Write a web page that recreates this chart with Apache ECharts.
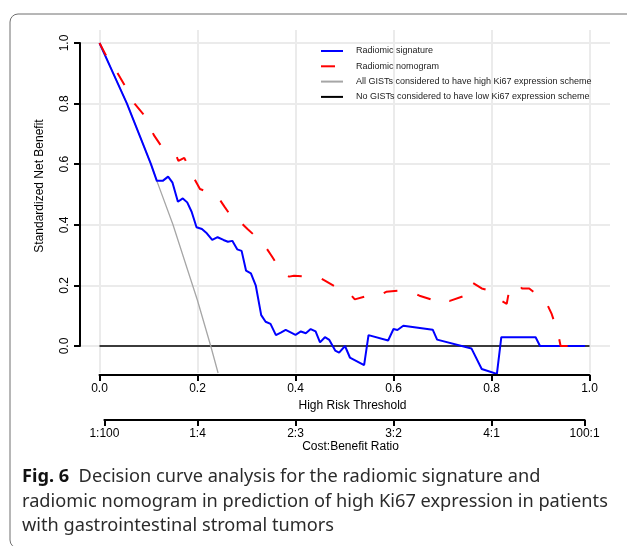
<!DOCTYPE html>
<html>
<head>
<meta charset="utf-8">
<script src="https://cdn.jsdelivr.net/npm/echarts@6/dist/echarts.min.js"></script>
<style>
html, body { margin: 0; padding: 0; background: #fff; }
#chart { width: 627px; height: 546px; }
</style>
</head>
<body>
<div id="chart"></div>
<script>
// threshold probabilities and standardized net benefit
var sigT = [0, 0.028, 0.056, 0.083, 0.105, 0.117, 0.129, 0.140, 0.149, 0.160, 0.170, 0.179, 0.188, 0.198, 0.209, 0.219, 0.230, 0.241, 0.253, 0.262, 0.271, 0.281, 0.290, 0.299, 0.309, 0.319, 0.330, 0.339, 0.349, 0.360, 0.370, 0.380, 0.390, 0.400, 0.411, 0.421, 0.431, 0.441, 0.450, 0.460, 0.469, 0.481, 0.489, 0.501, 0.511, 0.540, 0.549, 0.589, 0.600, 0.608, 0.620, 0.680, 0.689, 0.759, 0.780, 0.811, 0.820, 0.890, 0.899, 0.991];
var sigV = [1.0, 0.90, 0.80, 0.69, 0.60, 0.545, 0.545, 0.559, 0.539, 0.476, 0.487, 0.474, 0.443, 0.392, 0.386, 0.372, 0.350, 0.359, 0.350, 0.344, 0.347, 0.319, 0.314, 0.249, 0.240, 0.199, 0.102, 0.080, 0.073, 0.036, 0.044, 0.053, 0.045, 0.037, 0.048, 0.042, 0.056, 0.048, 0.012, 0.029, 0.020, -0.015, -0.022, 0.000, -0.038, -0.063, 0.036, 0.018, 0.056, 0.053, 0.067, 0.054, 0.021, -0.008, -0.076, -0.092, 0.029, 0.029, 0.000, 0.000];

var nomoT = [0, 0.013, 0.037, 0.051, 0.072, 0.091, 0.111, 0.126, 0.156, 0.161, 0.173, 0.191, 0.205, 0.239, 0.255, 0.280, 0.290, 0.302, 0.334, 0.351, 0.374, 0.387, 0.397, 0.435, 0.443, 0.460, 0.498, 0.511, 0.521, 0.559, 0.569, 0.585, 0.626, 0.653, 0.691, 0.702, 0.715, 0.749, 0.758, 0.780, 0.791, 0.802, 0.831, 0.836, 0.855, 0.862, 0.877, 0.911, 0.923, 0.936, 0.941, 0.991];
var nomoV = [1.0, 0.960, 0.900, 0.861, 0.799, 0.762, 0.696, 0.660, 0.630, 0.611, 0.621, 0.559, 0.518, 0.498, 0.460, 0.402, 0.405, 0.386, 0.339, 0.298, 0.238, 0.229, 0.232, 0.227, 0.231, 0.216, 0.180, 0.172, 0.154, 0.171, 0.165, 0.179, 0.185, 0.166, 0.146, 0.159, 0.149, 0.168, 0.212, 0.190, 0.185, 0.166, 0.139, 0.183, 0.207, 0.190, 0.190, 0.146, 0.105, 0.040, 0.000, 0.000];

var allT = [0, 0.028, 0.056, 0.083, 0.105, 0.117, 0.150, 0.180, 0.200, 0.227, 0.242];
var allV = [1.0, 0.90, 0.80, 0.69, 0.60, 0.545, 0.40, 0.25, 0.15, 0.0, -0.089];

var noneT = [0, 1];
var noneV = [0, 0];

var gridTicks = [0, 0.2, 0.4, 0.6, 0.8, 1.0];
var costTicks = [0.01, 0.2, 0.4, 0.6, 0.8, 0.99];
var costLabels = ['1:100', '1:4', '2:3', '3:2', '4:1', '100:1'];

var seriesNames = [
    'Radiomic signature',
    'Radiomic nomogram',
    'All GISTs considered to have high Ki67 expression scheme',
    'No GISTs considered to have low Ki67 expression scheme'
];

function pairs(xs, ys) {
    return xs.map(function (x, i) { return [x, ys[i]]; });
}

var chart = echarts.init(document.getElementById('chart'));
var font = 'Liberation Sans, Arial, sans-serif';

var gridMarks = [];
gridTicks.forEach(function (v) {
    gridMarks.push({ xAxis: v });
    gridMarks.push({ yAxis: v });
});

var option = {
    animation: false,
    textStyle: { fontFamily: font },
    grid: [
        // panel (gridlines + curves)
        { left: 80, top: 30, width: 530, height: 343 },
        // 0..1 box, its axes are pushed outward like R's
        { left: 99.5, top: 43, width: 490, height: 303 },
        // cost:benefit axis
        { left: 104.4, top: 380, width: 480.2, height: 40 }
    ],
    xAxis: [
        { gridIndex: 0, type: 'value', min: -0.0398, max: 1.0418, show: false },
        {
            gridIndex: 1, type: 'value', min: 0, max: 1, interval: 0.2, position: 'bottom', offset: 29,
            axisLine: { show: true, onZero: false, lineStyle: { color: '#000', width: 2 } },
            axisTick: { show: true, length: 6, lineStyle: { color: '#000', width: 2 } },
            axisLabel: { color: '#000', fontSize: 12, margin: 8, formatter: function (v) { return v.toFixed(1); } },
            splitLine: { show: false },
            name: 'High Risk Threshold', nameLocation: 'middle', nameGap: 23,
            nameTextStyle: { color: '#000', fontSize: 12, padding: [0, 0, 0, 16] }
        },
        {
            gridIndex: 2, type: 'value', min: 0.01, max: 0.99, position: 'bottom',
            axisLine: { show: true, onZero: false, lineStyle: { color: '#000', width: 2 } },
            axisTick: { show: true, length: 6, customValues: costTicks, lineStyle: { color: '#000', width: 2 } },
            axisLabel: {
                color: '#000', fontSize: 12, margin: 8, customValues: costTicks,
                formatter: function (v) { return costLabels[costTicks.indexOf(v)]; }
            },
            splitLine: { show: false },
            name: 'Cost:Benefit Ratio', nameLocation: 'middle', nameGap: 21,
            nameTextStyle: { color: '#000', fontSize: 12, padding: [0, 0, 0, 12] }
        }
    ],
    yAxis: [
        { gridIndex: 0, type: 'value', min: -0.0891, max: 1.0429, show: false },
        {
            gridIndex: 1, type: 'value', min: 0, max: 1, interval: 0.2, position: 'left', offset: 19.5,
            axisLine: { show: true, onZero: false, lineStyle: { color: '#000', width: 2 } },
            axisTick: { show: true, length: 6, lineStyle: { color: '#000', width: 2 } },
            axisLabel: { color: '#000', fontSize: 12, rotate: 90, margin: 9, formatter: function (v) { return v.toFixed(1); } },
            splitLine: { show: false }
        },
        { gridIndex: 2, type: 'value', show: false }
    ],
    legend: {
        data: seriesNames,
        orient: 'vertical',
        left: 320,
        top: 46,
        padding: 0,
        itemWidth: 22,
        itemHeight: 10,
        itemGap: 5.3,
        selectedMode: false,
        itemStyle: { opacity: 0 },
        textStyle: { fontSize: 9, color: '#222', lineHeight: 10, padding: [0, 0, 0, 8] }
    },
    graphic: [
        {
            type: 'rect', z: -10, silent: true,
            shape: { x: 10, y: 14, width: 640, height: 534, r: 8 },
            style: { fill: 'none', stroke: '#6e6e6e', lineWidth: 1 }
        },
        {
            type: 'text', silent: true, x: 40, y: 186, rotation: Math.PI / 2,
            style: {
                text: 'Standardized Net Benefit', fontSize: 12, fontFamily: font, fill: '#000',
                align: 'center', verticalAlign: 'middle'
            }
        },
        {
            type: 'text', silent: true, x: 22, y: 465,
            style: {
                text: '{b|Fig. 6}  Decision curve analysis for the radiomic signature and\n' +
                      'radiomic nomogram in prediction of high Ki67 expression in patients\n' +
                      'with gastrointestinal stromal tumors',
                fontSize: 18.2, fontFamily: 'Noto Sans, Open Sans, sans-serif', fill: '#2b2b2b',
                lineHeight: 24.5,
                rich: {
                    b: { fontSize: 18.2, fontWeight: 'bold', fontFamily: 'Noto Sans, Open Sans, sans-serif', fill: '#111', lineHeight: 24.5 }
                }
            }
        }
    ],
    series: [
        {
            name: '_grid', type: 'line', xAxisIndex: 0, yAxisIndex: 0, data: [], z: 0,
            markLine: {
                silent: true, symbol: 'none', z: 0, label: { show: false },
                lineStyle: { color: '#ebebeb', width: 2, type: 'solid' },
                data: gridMarks
            }
        },
        {
            name: seriesNames[3], type: 'line', xAxisIndex: 0, yAxisIndex: 0, symbol: 'none', z: 2,
            data: pairs(noneT, noneV),
            lineStyle: { color: '#000', width: 1.5 }, itemStyle: { color: '#000' }
        },
        {
            name: seriesNames[2], type: 'line', xAxisIndex: 0, yAxisIndex: 0, symbol: 'none', z: 2,
            data: pairs(allT, allV),
            lineStyle: { color: '#a6a6a6', width: 1.3 }, itemStyle: { color: '#a6a6a6' }
        },
        {
            name: seriesNames[0], type: 'line', xAxisIndex: 0, yAxisIndex: 0, symbol: 'none', z: 3,
            data: pairs(sigT, sigV),
            lineStyle: { color: '#0000ff', width: 2 }, itemStyle: { color: '#0000ff' }
        },
        {
            name: seriesNames[1], type: 'line', xAxisIndex: 0, yAxisIndex: 0, symbol: 'none', z: 4,
            data: pairs(nomoT, nomoV),
            lineStyle: { color: '#ff0000', width: 2, type: [14, 21] }, itemStyle: { color: '#ff0000' }
        }
    ]
};

chart.setOption(option);
</script>
</body>
</html>
